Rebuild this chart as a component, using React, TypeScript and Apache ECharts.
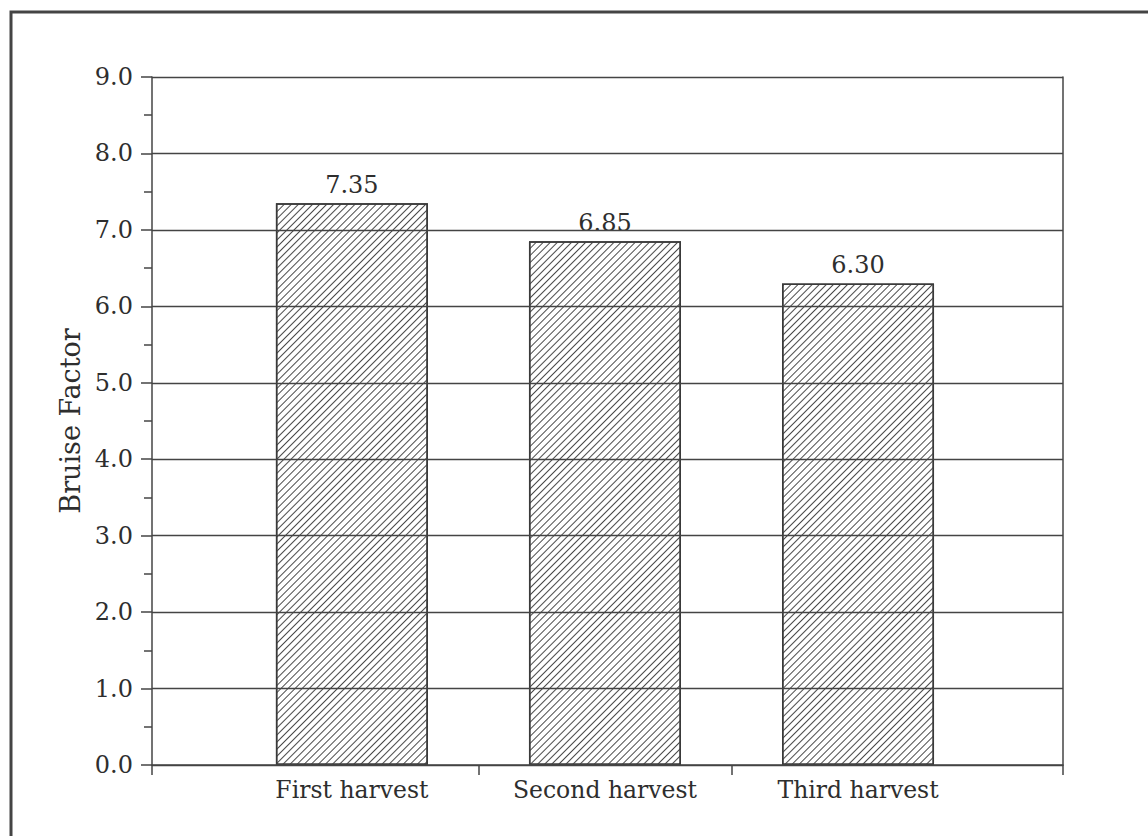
import React, { useEffect, useRef } from "react";
import * as echarts from "echarts";

const categories = ["First harvest", "Second harvest", "Third harvest"];
const categoryPositions = [1, 2, 3];
const bruiseValues = [7.35, 6.85, 6.3];
const xTickPositions = [0.21, 1.5, 2.5, 3.81];

const FONT = "DejaVu Serif";
const LINE = "#444444";
const TEXT = "#2e2e2e";

export default function App() {
  const ref = useRef<HTMLDivElement>(null);
  useEffect(() => {
    if (!ref.current) return;
    const chart = echarts.init(ref.current, undefined, { renderer: "svg" });
    const option: any = {
      animation: false,
      backgroundColor: "#ffffff",
      grid: { left: 152, right: 85, top: 77, bottom: 71, containLabel: false },
      graphic: [
        {
          type: "rect",
          shape: { x: 11, y: 12, width: 1200, height: 900 },
          style: { fill: "none", stroke: "#444", lineWidth: 3 },
          silent: true,
        },
      ],
      xAxis: {
        type: "value",
        min: 0.21,
        max: 3.81,
        axisLine: { show: true, lineStyle: { color: LINE, width: 1.5 } },
        axisTick: {
          show: true,
          customValues: xTickPositions,
          length: 10,
          lineStyle: { color: LINE, width: 1.5 },
        },
        axisLabel: {
          customValues: categoryPositions,
          formatter: (v: number) => categories[Math.round(v) - 1] ?? "",
          fontFamily: FONT,
          fontSize: 23.5,
          color: TEXT,
          margin: 13,
        },
        splitLine: { show: false },
      },
      yAxis: [
        {
          type: "value",
          min: 0,
          max: 9,
          interval: 1,
          name: "Bruise Factor",
          nameLocation: "middle",
          nameRotate: 90,
          nameGap: 53,
          nameTextStyle: { fontFamily: FONT, fontSize: 27, color: TEXT },
          axisLine: { show: true, lineStyle: { color: LINE, width: 1.5 } },
          axisTick: { show: true, length: 11, lineStyle: { color: LINE, width: 1.5 } },
          minorTick: { show: true, splitNumber: 2, length: 8, lineStyle: { color: LINE, width: 1.5 } },
          axisLabel: {
            formatter: (v: number) => v.toFixed(1),
            fontFamily: FONT,
            fontSize: 24,
            color: TEXT,
            margin: 19,
          },
          splitLine: { show: true, lineStyle: { color: LINE, width: 1.4 } },
        },
        {
          type: "value",
          min: 0,
          max: 9,
          position: "right",
          axisLine: { show: true, lineStyle: { color: LINE, width: 1.5 } },
          axisTick: { show: false },
          axisLabel: { show: false },
          splitLine: { show: false },
        },
      ],
      series: [
        {
          type: "bar",
          z: -1,
          data: categoryPositions.map((x, i) => [x, bruiseValues[i]]),
          barWidth: 152,
          itemStyle: {
            color: "#ffffff",
            borderColor: "#3a3a3a",
            borderWidth: 1.5,
            decal: {
              symbol: "rect",
              symbolSize: 1,
              dashArrayX: [1, 0],
              dashArrayY: [1, 3.5],
              rotation: -Math.PI / 4,
              color: "#4a4a4a",
            },
          },
          label: {
            show: true,
            position: "top",
            distance: 6,
            formatter: (p: any) => p.value[1].toFixed(2),
            fontFamily: FONT,
            fontSize: 24,
            color: TEXT,
          },
        },
      ],
    };
    chart.setOption(option);
    return () => chart.dispose();
  }, []);
  return (
    <div
      ref={ref}
      style={{ position: "fixed", left: 0, top: 0, width: 1148, height: 836 }}
    />
  );
}
